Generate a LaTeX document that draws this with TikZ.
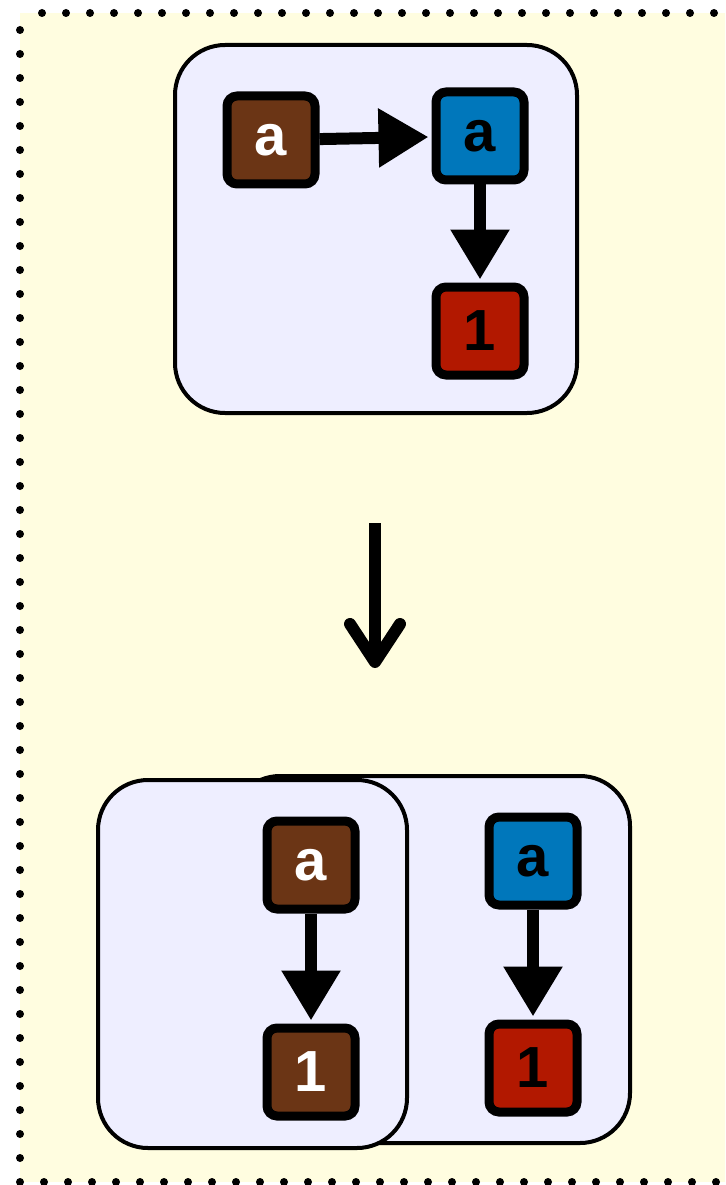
\documentclass[tikz,border=0pt]{standalone}
\usepackage{fontspec}
\setmainfont{Liberation Sans}
\usepackage{xcolor}
\usetikzlibrary{arrows.meta}

\definecolor{paper}{RGB}{255,253,224}
\definecolor{groupfill}{RGB}{238,238,255}
\definecolor{brownbox}{RGB}{107,53,21}
\definecolor{bluebox}{RGB}{0,119,187}
\definecolor{redbox}{RGB}{178,24,0}

\tikzset{
  val/.style={draw=black,line width=9pt,rounded corners=10pt,minimum size=88pt,
    inner sep=0pt,font=\fontsize{58}{58}\selectfont\bfseries},
  brownval/.style={val,fill=brownbox,text=white},
  blueval/.style={val,fill=bluebox,text=black},
  redval/.style={val,fill=redbox,text=black},
  group/.style={draw=black,line width=4pt,rounded corners=50pt,fill=groupfill},
  link/.style={line width=12pt,-{Triangle[length=50pt,width=56pt]},shorten >=3pt},
  dots/.style={line width=8pt,line cap=round,dash pattern=on 0pt off 24pt}
}

\begin{document}
\begin{tikzpicture}[x=1pt,y=-1pt]
  \useasboundingbox (0,0) rectangle (725,1185);
  \begin{scope}
    \clip (0,0) rectangle (725,1185);
    \fill[paper] (20,13) rectangle (740,1182);
    \draw[dots] (20,30) -- (20,1190);
    \draw[dots] (42,13) -- (740,13);
    \draw[dots] (44,1182) -- (740,1182);
  \end{scope}

  % before
  \draw[group] (175,45) rectangle (577,413);
  \node[brownval] (x) at (271,140) {a};
  \node[blueval] (y) at (480,136) {a};
  \node[redval] (one) at (480,331) {1};
  \draw[link] (x) -- (y);
  \draw[link] (y) -- (one);

  % step
  \coordinate (from) at (375,523);
  \coordinate (to) at (375,668);
  \draw[line width=12pt,-{Straight Barb[length=38pt,width=50pt,round]}] (from) -- (to);

  % after
  \draw[group] (230,776) rectangle (630,1143);
  \node[blueval] (y2) at (533,861) {a};
  \node[redval] (one2) at (533,1068) {1};
  \draw[link] (y2) -- (one2);

  \draw[group] (98,780) rectangle (407,1148);
  \node[brownval] (x2) at (311,865) {a};
  \node[brownval] (one3) at (311,1072) {1};
  \draw[link] (x2) -- (one3);
\end{tikzpicture}
\end{document}
